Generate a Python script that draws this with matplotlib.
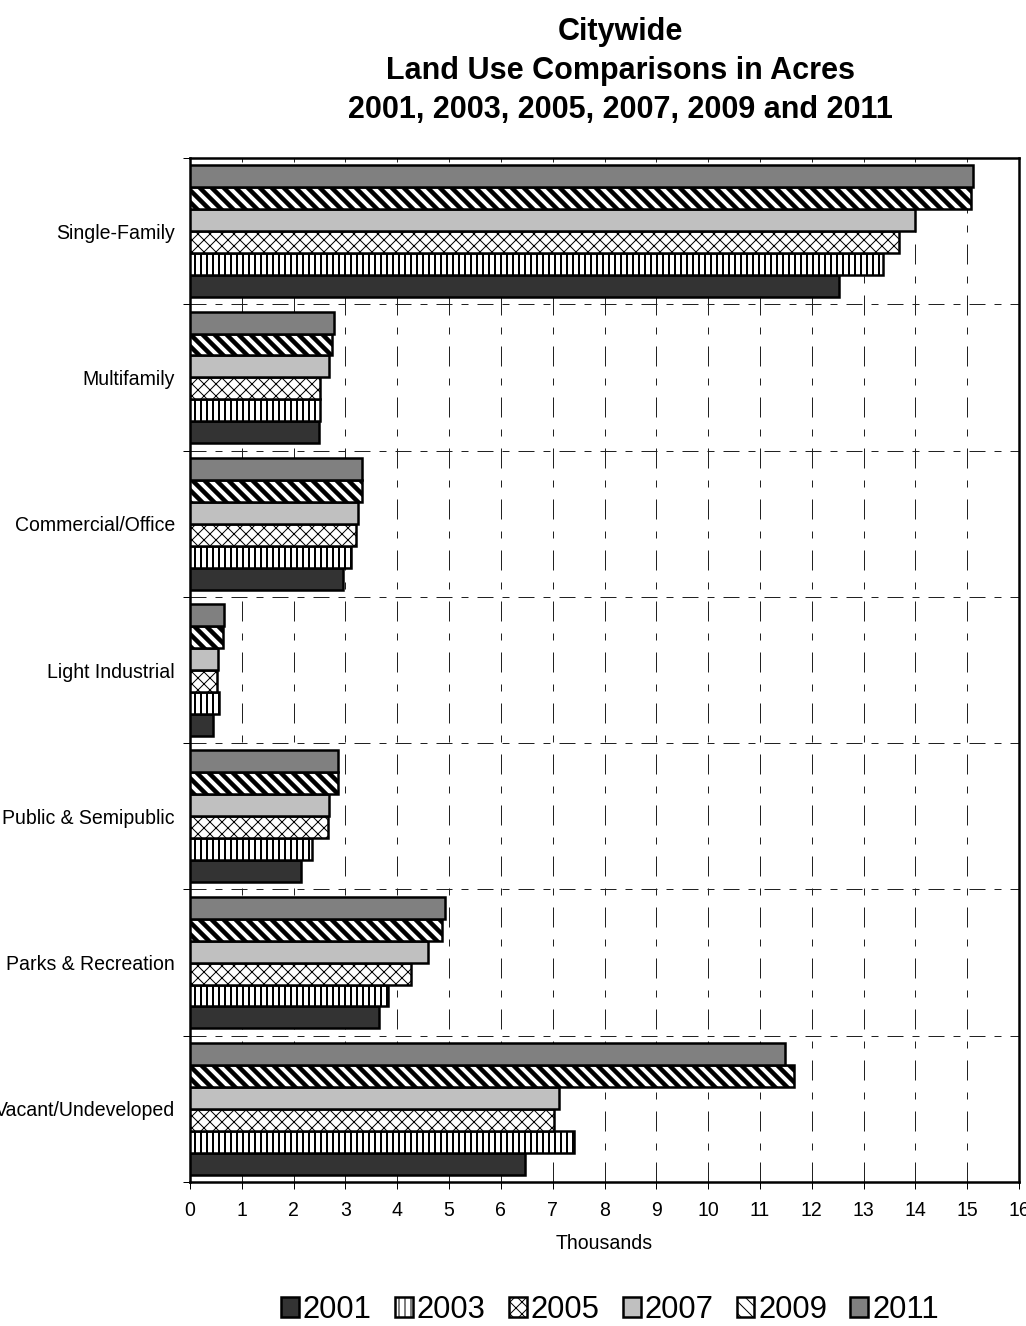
import matplotlib.pyplot as plt
import numpy as np

plt.rcParams['font.family'] = ['Liberation Sans', 'DejaVu Sans']

categories = ["Single-Family", "Multifamily", "Commercial/Office", "Light Industrial",
              "Public & Semipublic", "Parks & Recreation", "Vacant/Undeveloped"]
years = ["2001", "2003", "2005", "2007", "2009", "2011"]

# thousands of acres
v2001 = [12.53, 2.49, 2.95, 0.44, 2.14, 3.65, 6.47]
v2003 = [13.38, 2.51, 3.10, 0.56, 2.36, 3.82, 7.41]
v2005 = [13.69, 2.51, 3.20, 0.52, 2.66, 4.27, 7.03]
v2007 = [14.00, 2.68, 3.24, 0.54, 2.68, 4.59, 7.12]
v2009 = [15.07, 2.74, 3.32, 0.64, 2.86, 4.86, 11.66]
v2011 = [15.12, 2.78, 3.32, 0.66, 2.86, 4.92, 11.49]
series = [v2001, v2003, v2005, v2007, v2009, v2011]

# face colour, hatch, hatch line width
styles = [("#333333", None, 1),
          ("white", "||", 2),
          ("white", "xx", 1),
          ("#c0c0c0", None, 1),
          ("white", "\\\\", 4.5),
          ("#808080", None, 1)]

# dpi 72 so points == pixels
fig = plt.figure(figsize=(1026 / 72, 1326 / 72), dpi=72)
ax = fig.add_axes([190 / 1026, 1 - 1182 / 1326, 829 / 1026, 1024 / 1326])

y = np.arange(len(categories)) + 0.5
h = 0.15
for j, vals in enumerate(series):
    fc, hatch, hlw = styles[j]
    with plt.rc_context({"hatch.linewidth": hlw, "hatch.color": "black"}):
        bars = ax.barh(y + 0.375 - j * h, vals, height=h, color=fc, edgecolor="black",
                       linewidth=2.5, hatch=hatch, label=years[j], zorder=3)
    for b in bars:
        if hasattr(b, "set_hatch_linewidth"):
            b.set_hatch_linewidth(hlw)

ax.set_xlim(0, 16)
ax.set_ylim(7, 0)
ax.set_xticks(range(0, 17))
ax.set_yticks(range(0, 8))
ax.set_yticks(y, minor=True)
ax.set_yticklabels([])
ax.set_yticklabels(categories, minor=True)
ax.tick_params(axis="y", which="major", length=7, width=1, direction="out")
ax.tick_params(axis="y", which="minor", length=0, pad=15, labelsize=19.5)
ax.tick_params(axis="x", length=7, width=1, direction="out", pad=12, labelsize=19.5)

ax.set_axisbelow(True)
ax.grid(axis="x", color="#222222", linewidth=1, linestyle=(0, (20, 12, 7, 12)))
ax.grid(axis="y", which="major", color="#222222", linewidth=1, linestyle=(0, (16, 9, 7, 9)))

for s in ax.spines.values():
    s.set_linewidth(2.5)

ax.set_xlabel("Thousands", fontsize=19.5, labelpad=14)

fig.text(620 / 1026, 1 - 71 / 1326,
         "Citywide\nLand Use Comparisons in Acres\n2001, 2003, 2005, 2007, 2009 and 2011",
         ha="center", va="center", fontsize=30.5, fontweight="bold", linespacing=1.38)

fig.legend(loc="center", bbox_to_anchor=(610 / 1026, 1 - 1310 / 1326), ncol=6, frameon=False,
           fontsize=31, handlelength=0.58, handleheight=0.58, handletextpad=0.12,
           columnspacing=0.75, borderpad=0)

fig.savefig("out.png", dpi=72)
